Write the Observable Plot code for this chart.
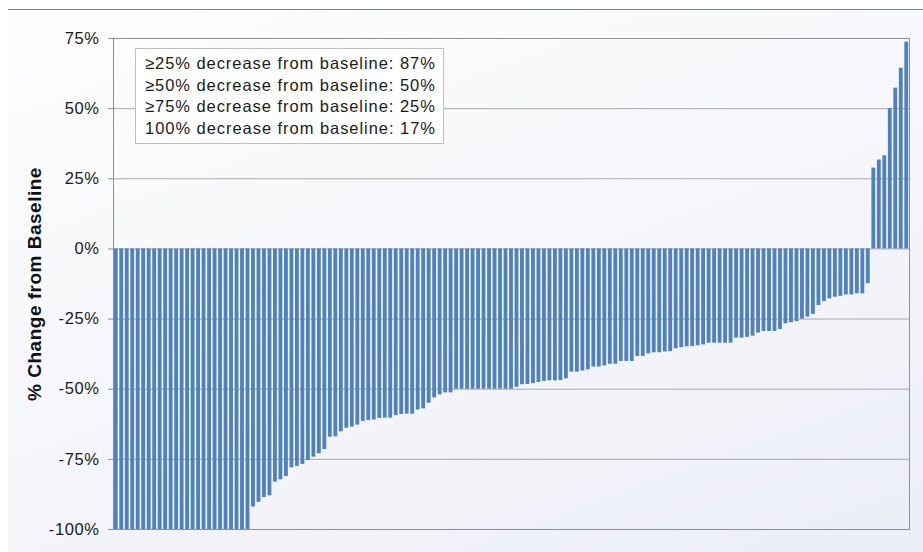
<!DOCTYPE html>
<html>
<head>
<meta charset="utf-8">
<script src="https://cdn.jsdelivr.net/npm/d3@7"></script>
<script src="https://cdn.jsdelivr.net/npm/@observablehq/plot@0.6"></script>
<style>
  html, body { margin: 0; padding: 0; background: #ffffff; }
  #wrap {
    position: relative; width: 923px; height: 552px; overflow: hidden;
    font-family: "Liberation Sans", Arial, sans-serif;
  }
  #panel {
    position: absolute; left: 8px; top: 9px; right: 0; bottom: 0;
    border-top: 1px solid #5f88bd;
    background: linear-gradient(160deg, #fdfdfe 0%, #f5f6fa 55%, #eceef7 100%);
  }
  #chart { position: absolute; left: 0; top: 0; }
  #chart svg g[aria-label="y-axis label"] text {
    font-weight: bold; font-size: 19px; letter-spacing: 0.5px; fill: #111;
  }
  #chart svg g[aria-label="y-axis tick label"] text { letter-spacing: 0.6px; }
  #summary {
    position: absolute; left: 135px; top: 48px; width: 298px;
    padding: 4px 0 3px 9px;
    background: #ffffff; border: 1px solid #bfbfbf;
    font-size: 16.5px; line-height: 21.7px; letter-spacing: 0.95px;
    color: #1a1a1a; white-space: nowrap;
  }
</style>
</head>
<body>
<div id="wrap">
  <div id="panel"></div>
  <div id="chart"></div>
  <div id="summary"></div>
</div>
<script>
// Best percent change from baseline per patient, sorted from largest decrease to largest increase
const pctChange = [
  -100, -100, -100, -100, -100, -100, -100, -100, -100, -100,
  -100, -100, -100, -100, -100, -100, -100, -100, -100, -100,
  -100, -100, -100, -100, -100,
  -92.0, -90.3, -88.6, -88.0, -83.1, -82.3, -81.1, -78.0, -77.5, -76.8,
  -75.4, -74.2, -73.0, -71.5, -67.1, -67.0, -65.2, -63.9, -63.5, -62.8,
  -61.5, -61.2, -61.0, -60.4, -60.3, -60.3, -59.4, -59.0, -58.9, -58.9,
  -57.4, -57.0, -55.0, -53.1, -52.0, -51.3, -51.3,
  -50, -50, -50, -50, -50, -50, -50, -50, -50, -50, -50,
  -49.3, -48.4, -48.3, -48.0, -47.6, -47.2, -47.0, -47.0, -46.9, -46.3,
  -43.9, -43.9, -43.5, -43.1, -42.1, -42.1, -41.7, -41.1, -41.1, -40.1,
  -40.1, -40.1, -38.3, -38.3, -37.4, -37.0, -37.0, -36.7, -36.6, -35.6,
  -35.2, -34.9, -34.8, -34.5, -34.2, -33.6, -33.6, -33.6, -33.6, -33.6,
  -31.8, -31.8, -31.5, -31.1, -30.0, -29.4, -29.4, -29.4, -28.7, -26.7,
  -26.3, -25.9, -25.0, -24.3, -23.3, -20.2, -18.7, -17.8, -17.2, -16.9,
  -16.4, -16.4, -16.0, -16.0, -12.4,
  28.8, 31.7, 33.2, 50.0, 57.3, 64.4, 73.7
];

// Patient rank along the x axis (1 = largest decrease)
const patientRank = pctChange.map((_, i) => i + 1);

// Y axis ticks
const yTicks = [75, 50, 25, 0, -25, -50, -75, -100];

// Response summary shown in the boxed note
const summaryLines = [
  "≥25% decrease from baseline: 87%",
  "≥50% decrease from baseline: 50%",
  "≥75% decrease from baseline: 25%",
  "100% decrease from baseline: 17%"
];

const rows = pctChange.map((v, i) => ({rank: patientRank[i], change: v}));

const chart = Plot.plot({
  width: 923,
  height: 552,
  marginLeft: 113,
  marginRight: 14,
  marginTop: 38,
  marginBottom: 23,
  style: {
    background: "transparent",
    fontFamily: "'Liberation Sans', Arial, sans-serif",
    fontSize: "16.5px",
    color: "#1a1a1a",
    overflow: "visible"
  },
  x: {type: "band", domain: patientRank, padding: 0.3, paddingOuter: 0.15, axis: null},
  y: {domain: [-100, 75]},
  marks: [
    Plot.ruleY(yTicks, {stroke: "#a9a9a9", strokeWidth: 1}),
    Plot.barY(rows, {x: "rank", y: "change", fill: "#4f81bd"}),
    Plot.frame({stroke: "#8f8f8f"}),
    Plot.axisY({
      ticks: yTicks,
      tickFormat: d => d + "%",
      tickSize: 5,
      tickPadding: 9,
      stroke: "#8f8f8f",
      fill: "#1a1a1a",
      label: "% Change from Baseline",
      labelAnchor: "center",
      labelArrow: "none",
      labelOffset: 86
    })
  ]
});

document.getElementById("chart").appendChild(chart);

const box = document.getElementById("summary");
summaryLines.forEach(t => {
  const line = document.createElement("div");
  line.textContent = t;
  box.appendChild(line);
});
</script>
</body>
</html>
